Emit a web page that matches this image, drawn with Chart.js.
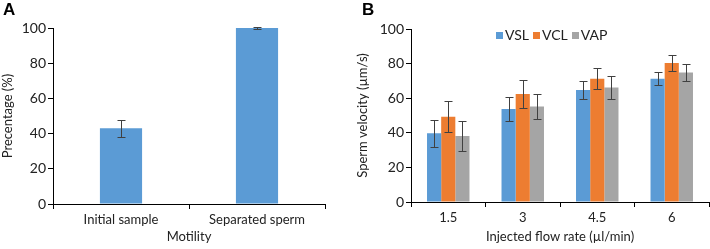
<!DOCTYPE html>
<html>
<head>
<meta charset="utf-8">
<script src="https://cdn.jsdelivr.net/npm/chart.js@4.4.0/dist/chart.umd.min.js"></script>
<style>
    body { margin: 0; background: #fff; font-family: Lato, sans-serif; }
    #wrap { position: relative; width: 710px; height: 249px; }
    .panel { position: absolute; top: 0; width: 355px; height: 249px; }
    .letter { position: absolute; top: 0; font: bold 17px "Liberation Sans", Arial, sans-serif; color: #000; }
    #legend { position: absolute; top: 26px; left: 496px; font-size: 14px; color: #222; white-space: nowrap; }
    #legend span.box { display: inline-block; width: 7px; height: 7px; margin-right: 2px; vertical-align: 1px; }
    #legend span.item { margin-right: 4px; }
</style>
</head>
<body>
<div id="wrap">
    <div class="panel" style="left:0"><canvas id="chartA" width="355" height="249"></canvas></div>
    <div class="panel" style="left:355px"><canvas id="chartB" width="355" height="249"></canvas></div>
    <div class="letter" style="left:3px">A</div>
    <div class="letter" style="left:362px">B</div>
    <div id="legend"></div>
</div>
<script>
// Panel A data
var motilityLabels = ['Initial sample', 'Separated sperm'];
var motilityValues = [43, 100];
var motilityErrors = [5, 0.3];

// Panel B data
var flowRates = ['1.5', '3', '4.5', '6'];
var seriesNames = ['VSL', 'VCL', 'VAP'];
var vslValues = [39.7, 53.8, 64.8, 71.2];
var vclValues = [49.3, 62.4, 71.3, 80.4];
var vapValues = [38.2, 55.2, 66.2, 74.9];
var vslErrors = [7.9, 7.1, 5.0, 3.8];
var vclErrors = [9.1, 8.2, 6.2, 4.6];
var vapErrors = [8.5, 7.4, 6.6, 4.9];

var yTicksA = [0, 20, 40, 60, 80, 100];
var yTicksB = [0, 20, 40, 60, 80, 100];

var seriesColors = ['#5b9bd5', '#ed7d31', '#a5a5a5'];
var textColor = '#222';
var fontFamily = 'Lato, sans-serif';

document.addEventListener('DOMContentLoaded', function () {

    // draws error bars from the errors stored on each dataset
    var errorBarPlugin = {
        id: 'errorBars',
        afterDatasetsDraw: function (chart) {
            var ctx = chart.ctx;
            var yScale = chart.scales.y;
            ctx.save();
            ctx.strokeStyle = '#404040';
            ctx.lineWidth = 1;
            chart.data.datasets.forEach(function (ds, di) {
                var meta = chart.getDatasetMeta(di);
                meta.data.forEach(function (bar, i) {
                    var v = ds.data[i];
                    var e = ds.errors[i];
                    var top = Math.round(yScale.getPixelForValue(v + e)) + 0.5;
                    var bottom = Math.round(yScale.getPixelForValue(v - e)) + 0.5;
                    var x = Math.round(bar.x) + 0.5;
                    ctx.beginPath();
                    ctx.moveTo(x, top);
                    ctx.lineTo(x, bottom);
                    ctx.moveTo(x - 4, top);
                    ctx.lineTo(x + 4, top);
                    ctx.moveTo(x - 4, bottom);
                    ctx.lineTo(x + 4, bottom);
                    ctx.stroke();
                });
            });
            ctx.restore();
        }
    };

    function makeOptions(yTitle, xTitle, yTicks, yWidth, xHeight, padding) {
        return {
            responsive: false,
            animation: false,
            layout: { padding: padding },
            plugins: { legend: { display: false }, tooltip: { enabled: false } },
            scales: {
                x: {
                    grid: { display: true, offset: true, drawOnChartArea: false, drawTicks: true, tickLength: 5, color: '#000' },
                    border: { color: '#000', width: 1 },
                    ticks: { color: textColor, font: { family: fontFamily, size: 13 }, padding: 3 },
                    title: { display: true, text: xTitle, color: textColor, font: { family: fontFamily, size: 13 }, padding: { top: 0 } },
                    afterFit: function (scale) { scale.height = xHeight; }
                },
                y: {
                    min: 0,
                    max: 100,
                    afterBuildTicks: function (scale) {
                        scale.ticks = yTicks.map(function (v) { return { value: v }; });
                    },
                    grid: { display: true, drawOnChartArea: false, drawTicks: true, tickLength: 5, color: '#000' },
                    border: { color: '#000', width: 1 },
                    ticks: { color: textColor, font: { family: fontFamily, size: 14 }, padding: 2 },
                    title: { display: true, text: yTitle, color: textColor, font: { family: fontFamily, size: 13 }, padding: 0 },
                    afterFit: function (scale) { scale.width = yWidth; }
                }
            }
        };
    }

    // Panel A: motility
    new Chart(document.getElementById('chartA').getContext('2d'), {
        type: 'bar',
        data: {
            labels: motilityLabels,
            datasets: [{
                data: motilityValues,
                errors: motilityErrors,
                backgroundColor: seriesColors[0],
                categoryPercentage: 1,
                barPercentage: 0.31
            }]
        },
        options: makeOptions('Precentage (%)', 'Motility', yTicksA, 53, 45, { top: 28, right: 30, left: 0, bottom: 0 }),
        plugins: [errorBarPlugin]
    });

    // Panel B: velocity vs flow rate
    var valuesB = [vslValues, vclValues, vapValues];
    var errorsB = [vslErrors, vclErrors, vapErrors];
    var datasetsB = seriesNames.map(function (name, i) {
        return {
            label: name,
            data: valuesB[i],
            errors: errorsB[i],
            backgroundColor: seriesColors[i],
            categoryPercentage: 0.57,
            barPercentage: 1
        };
    });

    new Chart(document.getElementById('chartB').getContext('2d'), {
        type: 'bar',
        data: { labels: flowRates, datasets: datasetsB },
        options: makeOptions('Sperm velocity (µm/s)', 'Injected flow rate (µl/min)', yTicksB, 56, 47, { top: 29, right: 1, left: 0, bottom: 0 }),
        plugins: [errorBarPlugin]
    });

    // Legend for panel B
    var legend = document.getElementById('legend');
    seriesNames.forEach(function (name, i) {
        var item = document.createElement('span');
        item.className = 'item';
        var box = document.createElement('span');
        box.className = 'box';
        box.style.background = seriesColors[i];
        item.appendChild(box);
        item.appendChild(document.createTextNode(name));
        legend.appendChild(item);
    });
});
</script>
</body>
</html>
